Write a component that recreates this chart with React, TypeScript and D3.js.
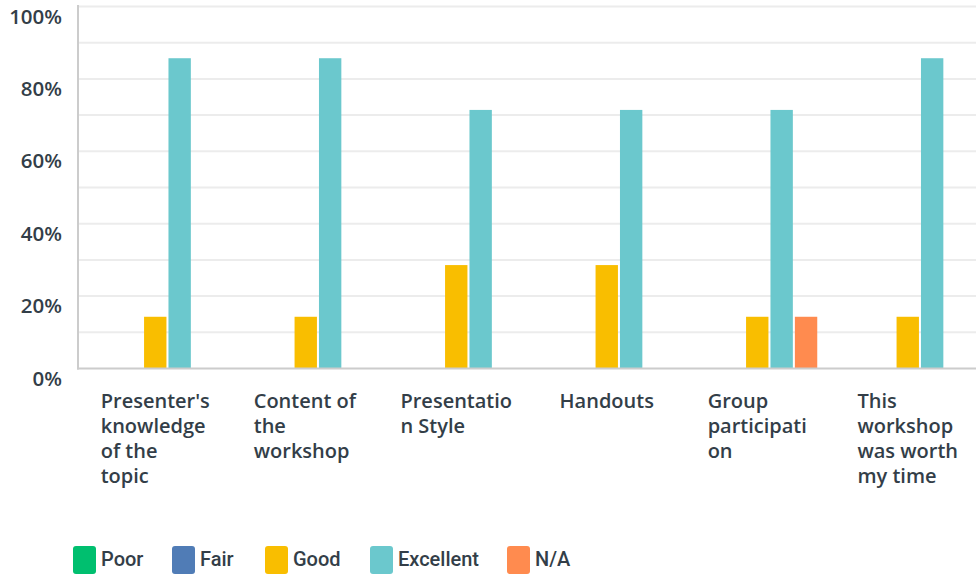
import React, { useEffect, useRef } from "react";
import * as d3 from "d3";

const categories: string[][] = [
  ["Presenter's", "knowledge", "of the", "topic"],
  ["Content of", "the", "workshop"],
  ["Presentatio", "n Style"],
  ["Handouts"],
  ["Group", "participati", "on"],
  ["This", "workshop", "was worth", "my time"],
];
const seriesNames = ["Poor", "Fair", "Good", "Excellent", "N/A"];
const seriesColors = ["#00bf6f", "#507cb6", "#f9be00", "#6bc8cd", "#ff8b4f"];
const poor = [0, 0, 0, 0, 0, 0];
const fair = [0, 0, 0, 0, 0, 0];
const good = [14.29, 14.29, 28.57, 28.57, 14.29, 14.29];
const excellent = [85.71, 85.71, 71.43, 71.43, 71.43, 85.71];
const na = [0, 0, 0, 0, 14.29, 0];
const yTicks = [0, 20, 40, 60, 80, 100];
const gridTicks = [10, 20, 30, 40, 50, 60, 70, 80, 90, 100];

const W = 976;
const H = 577;
const TEXT = "#333e48";
const FONT = "'Open Sans', sans-serif";

export default function App() {
  const ref = useRef<SVGSVGElement | null>(null);
  useEffect(() => {
    const svg = d3.select(ref.current);
    svg.selectAll("*").remove();
    const values = [poor, fair, good, excellent, na];
    const x0 = d3.scaleBand<number>().domain(d3.range(categories.length)).range([80, 983]);
    const x1 = d3.scaleBand<number>().domain(d3.range(seriesNames.length)).range([0, 120]).paddingInner(0.0833);
    const y = d3.scaleLinear().domain([0, 100]).range([368.5, 6.5]);
    const bandOffset = (x0.bandwidth() - 120) / 2;

    // grid
    svg.append("g").selectAll("line").data(gridTicks).join("line")
      .attr("x1", 79).attr("x2", W).attr("y1", (d) => y(d)).attr("y2", (d) => y(d))
      .attr("stroke", "#ececec").attr("stroke-width", 2);

    // y labels
    svg.append("g").selectAll("text").data(yTicks).join("text")
      .attr("x", 62).attr("y", (d) => y(d) + 17)
      .attr("text-anchor", "end")
      .attr("font-family", FONT).attr("font-weight", 600).attr("font-size", 20.5)
      .attr("fill", TEXT).text((d) => d + "%");

    // bars
    const g = svg.append("g");
    categories.forEach((_, ci) => {
      values.forEach((arr, si) => {
        const v = arr[ci];
        if (v <= 0) return;
        g.append("rect")
          .attr("x", (x0(ci) as number) + bandOffset + (x1(si) as number))
          .attr("width", x1.bandwidth())
          .attr("y", y(v)).attr("height", y(0) - y(v))
          .attr("fill", seriesColors[si]);
      });
    });

    // axes lines
    svg.append("line").attr("x1", 78).attr("x2", 78).attr("y1", 5).attr("y2", 369.5)
      .attr("stroke", "#cccccc").attr("stroke-width", 2);
    svg.append("line").attr("x1", 77).attr("x2", W).attr("y1", 368.5).attr("y2", 368.5)
      .attr("stroke", "#cccccc").attr("stroke-width", 2);

    // category labels
    categories.forEach((lines, ci) => {
      const cx = (x0(ci) as number) + x0.bandwidth() / 2;
      const t = svg.append("text")
        .attr("font-family", FONT).attr("font-weight", 600).attr("font-size", 20)
        .attr("fill", TEXT);
      lines.forEach((ln, li) => {
        t.append("tspan").attr("x", 0).attr("y", 408 + li * 25).text(ln);
      });
      const node = t.node() as SVGTextElement;
      const w = node.getBBox().width;
      t.attr("transform", `translate(${cx - w / 2},0)`);
    });

    // legend
    const legX = [73, 172, 265, 370, 507];
    const lg = svg.append("g");
    seriesNames.forEach((name, i) => {
      lg.append("rect").attr("x", legX[i]).attr("y", 546).attr("width", 23).attr("height", 28)
        .attr("rx", 3).attr("fill", seriesColors[i]);
      lg.append("text").attr("x", legX[i] + 28).attr("y", 565.5)
        .attr("font-family", "Roboto, sans-serif").attr("font-weight", 500).attr("font-size", 20)
        .attr("fill", TEXT).text(name);
    });
  }, []);
  return (
    <svg ref={ref} width={W} height={H} style={{ position: "absolute", left: 0, top: 0, background: "#fff" }} />
  );
}
